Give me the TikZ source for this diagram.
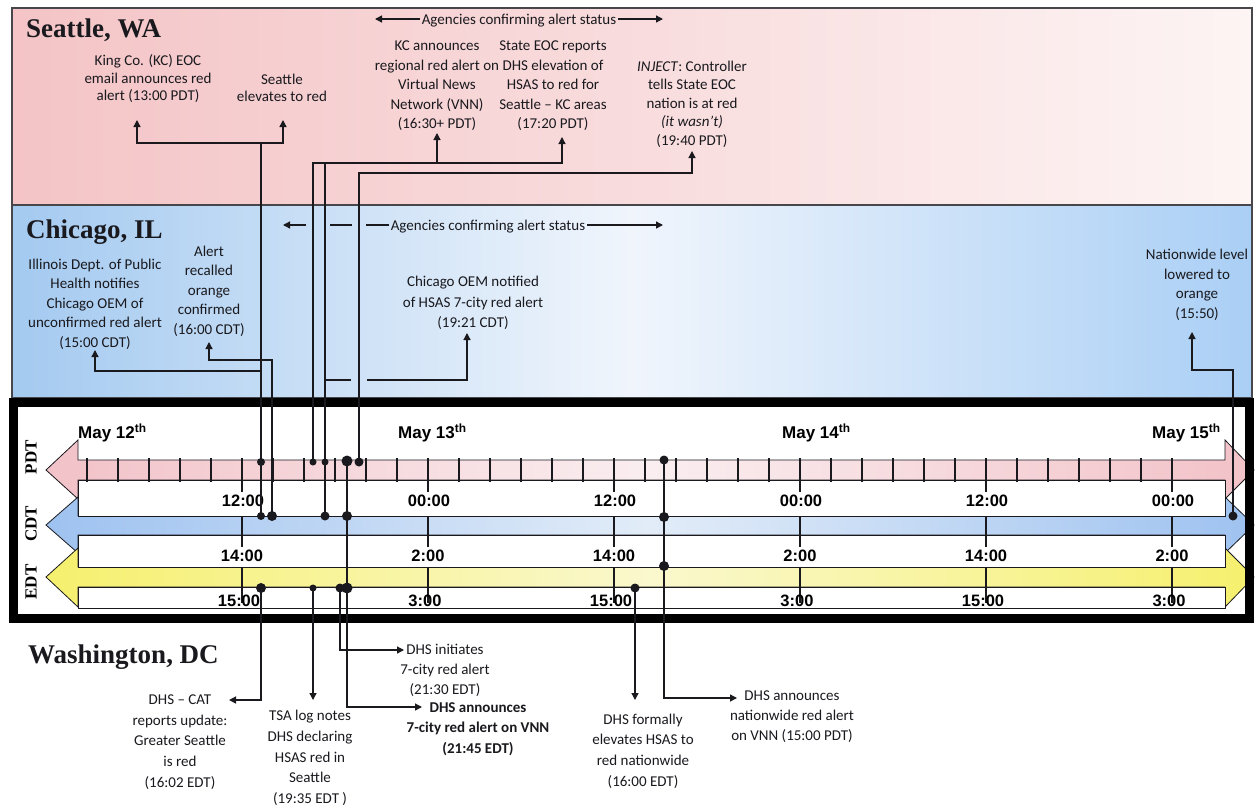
\documentclass[tikz,border=0pt]{standalone}
\usepackage{fontspec}
\setmainfont{Liberation Serif}
\newfontfamily\bodyf{Carlito}[Ligatures=TeX]
\newfontfamily\timef{Liberation Sans}
\usetikzlibrary{arrows.meta,calc}
\definecolor{seaL}{RGB}{244,196,198}
\definecolor{seaR}{RGB}{253,244,244}
\definecolor{chiL}{RGB}{164,202,240}
\definecolor{chiM}{RGB}{240,245,252}
\definecolor{chiR}{RGB}{170,207,245}
\definecolor{pdtC}{RGB}{242,194,200}
\definecolor{pdtM}{RGB}{250,238,240}
\definecolor{cdtC}{RGB}{158,194,240}
\definecolor{cdtM}{RGB}{226,236,248}
\definecolor{edtC}{RGB}{246,240,110}
\definecolor{edtM}{RGB}{250,248,205}
\definecolor{ink}{RGB}{25,25,30}
\tikzset{
 band/.style={draw=ink!80, line width=1.2pt},
 link/.style={draw=ink, line width=1.3pt},
 arr/.style={link, -{Triangle[length=7pt,width=7pt]}},
 lbl/.style={font=\bodyf\fontsize{15}{19.5}\selectfont, align=center, inner sep=0pt, text=ink},
 lblb/.style={lbl, font=\bodyf\bfseries\fontsize{15}{20.5}\selectfont},
 city/.style={font=\fontsize{27}{30}\selectfont\bfseries, anchor=base west, inner sep=0pt, text=ink},
 tz/.style={font=\fontsize{17}{20}\selectfont\bfseries, rotate=90, inner sep=0pt},
 tlab/.style={font=\timef\bfseries\fontsize{16.5}{18}\selectfont, inner sep=0pt},
 may/.style={font=\timef\bfseries\fontsize{17}{20}\selectfont, anchor=west, inner sep=0pt},
 tickmark/.style={line width=2.6pt, draw=ink},
 tlarrow/.style={draw=ink, line width=0.8pt},
 gapbox/.style={fill=white, draw=ink, line width=0.8pt},
}
\begin{document}
\begin{tikzpicture}[x=1pt,y=-1pt]
\useasboundingbox (0,0) rectangle (1255,809);
\fill[white] (0,0) rectangle (1255,809);
% bands
\path[band, left color=seaL, right color=seaR] (12,8) rectangle (1252,205);
\path[band, left color=chiL, right color=chiR, middle color=chiM] (12,205) rectangle (1252,398);
% timeline box interior
\fill[white] (13,402) rectangle (1249,618);
% arrows
\path[tlarrow, left color=pdtC, right color=pdtC, middle color=pdtM]
 (78,460) -- (78,440) -- (46,470) -- (78,499) -- (78,480) -- (1225,480) -- (1225,499) -- (1254,470) -- (1225,440) -- (1225,460) -- cycle;
\path[tlarrow, left color=cdtC, right color=cdtC, middle color=cdtM]
 (78,516) -- (78,497) -- (46,525) -- (78,553) -- (78,535) -- (1225,535) -- (1225,553) -- (1254,525) -- (1225,497) -- (1225,516) -- cycle;
\path[tlarrow, left color=edtC, right color=edtC, middle color=edtM]
 (78,567) -- (78,548) -- (46,577) -- (78,607) -- (78,587) -- (1225,587) -- (1225,607) -- (1254,577) -- (1225,548) -- (1225,567) -- cycle;
\path[gapbox] (78,480) rectangle (1225,516);
\path[gapbox] (78,535) rectangle (1225,567);
\path[gapbox] (78,587) rectangle (1225,608);
% ticks
\foreach \h in {-22,-20,...,48}{\draw[tickmark] ({428+15.5*\h},458) -- ({428+15.5*\h},482);}
\foreach \h in {-12,0,...,48}{
 \draw[tickmark] ({428+15.5*\h},458) -- ({428+15.5*\h},492);
 \draw[tickmark] ({428+15.5*\h},516) -- ({428+15.5*\h},547);
 \draw[tickmark] ({428+15.5*\h},567) -- ({428+15.5*\h},603);
}
\foreach \h/\a/\b/\c [count=\i] in {-12/12:00/14:00/15:00, 0/00:00/2:00/3:00, 12/12:00/14:00/15:00, 24/00:00/2:00/3:00, 36/12:00/14:00/15:00, 48/00:00/2:00/3:00}{
 \node[tlab] (lp\i) at ({428+15.5*\h+1},501) {\a};
 \node[tlab] (lc\i) at ({428+15.5*\h},556) {\b};
 \node[tlab] (le\i) at ({428+15.5*\h-3},601) {\c};
}
\node[may] (m12) at (78,433) {May 12\textsuperscript{th}};
\node[may] (m13) at (398,433) {May 13\textsuperscript{th}};
\node[may] (m14) at (782,433) {May 14\textsuperscript{th}};
\node[may] (m15) at (1152,433) {May 15\textsuperscript{th}};
\node[tz] (tzp) at (31,457) {PDT};
\node[tz] (tzc) at (31,524) {CDT};
\node[tz] (tze) at (31,582) {EDT};
\draw[line width=9pt] (13,402) rectangle (1249,618);
% city titles
\node[city] (sea) at (26,37) {Seattle, WA};
\node[city] (chi) at (26,238) {Chicago, IL};
\node[city] (was) at (28,663) {Washington, DC};
% event points on the time bars
\coordinate (P1) at (261,462); \coordinate (P2) at (313,462); \coordinate (P3) at (325,462);
\coordinate (P4) at (359,462); \coordinate (P5) at (347,461); \coordinate (P6) at (664,460);
\coordinate (C1) at (261,516); \coordinate (C2) at (272,516); \coordinate (C3) at (325,516);
\coordinate (C4) at (347,516); \coordinate (C5) at (664,517); \coordinate (C6) at (1233,516);
\coordinate (E1) at (261,588); \coordinate (E2) at (313,588); \coordinate (E3) at (340,588);
\coordinate (E4) at (347,588); \coordinate (E5) at (664,566); \coordinate (E6) at (635,588);
% arrow tips and bus levels
\coordinate (aT1) at (137,120); \coordinate (aT2) at (283,120); \coordinate (aT3) at (437,133);
\coordinate (aT4) at (562,137); \coordinate (aT5) at (692,151); \coordinate (aT6) at (95,350);
\coordinate (aT7) at (209,342); \coordinate (aT8) at (467,333); \coordinate (aT9) at (1192,332);
\coordinate (aT10) at (229,700); \coordinate (aT11) at (313,700); \coordinate (aT12) at (404,650);
\coordinate (aT13) at (422,707); \coordinate (aT14) at (635,700); \coordinate (aT15) at (737,698);
\coordinate (yS1) at (0,143); \coordinate (yS2) at (0,163); \coordinate (yS3) at (0,173);
\coordinate (yC1) at (0,371); \coordinate (yC2) at (0,360); \coordinate (yC3) at (0,380); \coordinate (yC4) at (0,370);
\coordinate (hopA) at (351,380); \coordinate (hopB) at (367,380);
% connectors
\draw[arr] (P1) |- (aT1 |- yS1) -- (aT1);
\draw[arr] (P1 |- yS1) -| (aT2);
\draw[arr] (C1) |- (aT6 |- yC1) -- (aT6);
\draw[arr] (C2) |- (aT7 |- yC2) -- (aT7);
\draw[arr] (P2) |- (aT4 |- yS2) -- (aT4);
\draw[arr] (aT3 |- yS2) -- (aT3);
\draw[link] (C3) -- (C3 |- yS2);
\draw[link] (C3 |- yC3) -- (hopA);
\draw[arr] (hopB) -| (aT8);
\draw[arr] (P4) |- (aT5 |- yS3) -- (aT5);
\draw[arr] (P5) |- (aT13);
\draw[arr] (E3) |- (aT12);
\draw[arr] (E2) -- (aT11);
\draw[arr] (E1) |- (aT10);
\draw[arr] (P6) |- (aT15);
\draw[arr] (E6) -- (aT14);
\draw[arr] (C6) |- (aT9 |- yC4) -- (aT9);
% dots
\fill[ink] (P1) circle (4pt); \fill[ink] (P2) circle (3.5pt); \fill[ink] (P3) circle (3.5pt);
\fill[ink] (P4) circle (4.5pt); \fill[ink] (P5) circle (5.5pt); \fill[ink] (P6) circle (4.5pt);
\fill[ink] (C1) circle (4pt); \fill[ink] (C2) circle (5pt); \fill[ink] (C3) circle (4.5pt);
\fill[ink] (C4) circle (5pt); \fill[ink] (C5) circle (5pt); \fill[ink] (C6) circle (4.5pt);
\fill[ink] (E1) circle (5pt); \fill[ink] (E2) circle (3.5pt); \fill[ink] (E3) circle (4.5pt);
\fill[ink] (E4) circle (5.5pt); \fill[ink] (E5) circle (5pt); \fill[ink] (E6) circle (4.5pt);
% agencies arrows
\node[lbl, inner sep=2pt] (ag1) at (519,21) {Agencies confirming alert status};
\coordinate (ag1L) at (375,19); \coordinate (ag1R) at (663,19);
\draw[arr] (ag1.west |- ag1L) -- (ag1L);
\draw[arr] (ag1.east |- ag1R) -- (ag1R);
\node[lbl, inner sep=2pt] (ag2) at (488,227) {Agencies confirming alert status};
\coordinate (ag2L) at (283,225); \coordinate (ag2R) at (663,225);
\coordinate (g1) at (306,225); \coordinate (g2) at (330,225); \coordinate (g3) at (352,225); \coordinate (g4) at (366,225);
\draw[arr] (g1) -- (ag2L);
\draw[link] (g2) -- (g3);
\draw[link] (g4) -- (ag2.west |- g4);
\draw[arr] (ag2.east |- ag2R) -- (ag2R);
% texts
\node[lbl, font=\bodyf\fontsize{15}{17.5}\selectfont] (t1) at (148,79) {King Co. (KC) EOC\\email announces red\\alert (13:00 PDT)};
\node[lbl, font=\bodyf\fontsize{15}{17.5}\selectfont] (t2) at (282,88) {Seattle\\elevates to red};
\node[lbl] (t3) at (437,86) {KC announces\\regional red alert on\\Virtual News\\Network (VNN)\\(16:30+ PDT)};
\node[lbl] (t4) at (553,86) {State EOC reports\\DHS elevation of\\HSAS to red for\\Seattle – KC areas\\(17:20 PDT)};
\node[lbl, font=\bodyf\fontsize{15}{18.5}\selectfont] (t5) at (692,104) {\textit{INJECT}: Controller\\tells State EOC\\nation is at red\\\textit{(it wasn't)}\\(19:40 PDT)};
\node[lbl] (t6) at (95,304) {Illinois Dept. of Public\\Health notifies\\Chicago OEM of\\unconfirmed red alert\\(15:00 CDT)};
\node[lbl] (t7) at (209,291) {Alert\\recalled\\orange\\confirmed\\(16:00 CDT)};
\node[lbl, font=\bodyf\fontsize{15}{20.5}\selectfont] (t8) at (473,303) {Chicago OEM notified\\of HSAS 7-city red alert\\(19:21 CDT)};
\node[lbl] (t9) at (1197,285) {Nationwide level\\lowered to\\orange\\(15:50)};
\node[lbl, font=\bodyf\fontsize{15}{20.7}\selectfont] (t10) at (180,742) {DHS – CAT\\reports update:\\Greater Seattle\\is red\\(16:02 EDT)};
\node[lbl, font=\bodyf\fontsize{15}{20.7}\selectfont] (t11) at (310,758) {TSA log notes\\DHS declaring\\HSAS red in\\Seattle\\(19:35 EDT )};
\node[lbl, font=\bodyf\fontsize{15}{20}\selectfont] (t12) at (445,670) {DHS initiates\\7-city red alert\\(21:30 EDT)};
\node[lblb] (t13) at (478,729) {DHS announces\\7-city red alert on VNN\\(21:45 EDT)};
\node[lbl, font=\bodyf\fontsize{15}{20.7}\selectfont] (t14) at (643,751) {DHS formally\\elevates HSAS to\\red nationwide\\(16:00 EDT)};
\node[lbl, font=\bodyf\fontsize{15}{20}\selectfont] (t15) at (792,717) {DHS announces\\nationwide red alert\\on VNN (15:00 PDT)};
\end{tikzpicture}
\end{document}
